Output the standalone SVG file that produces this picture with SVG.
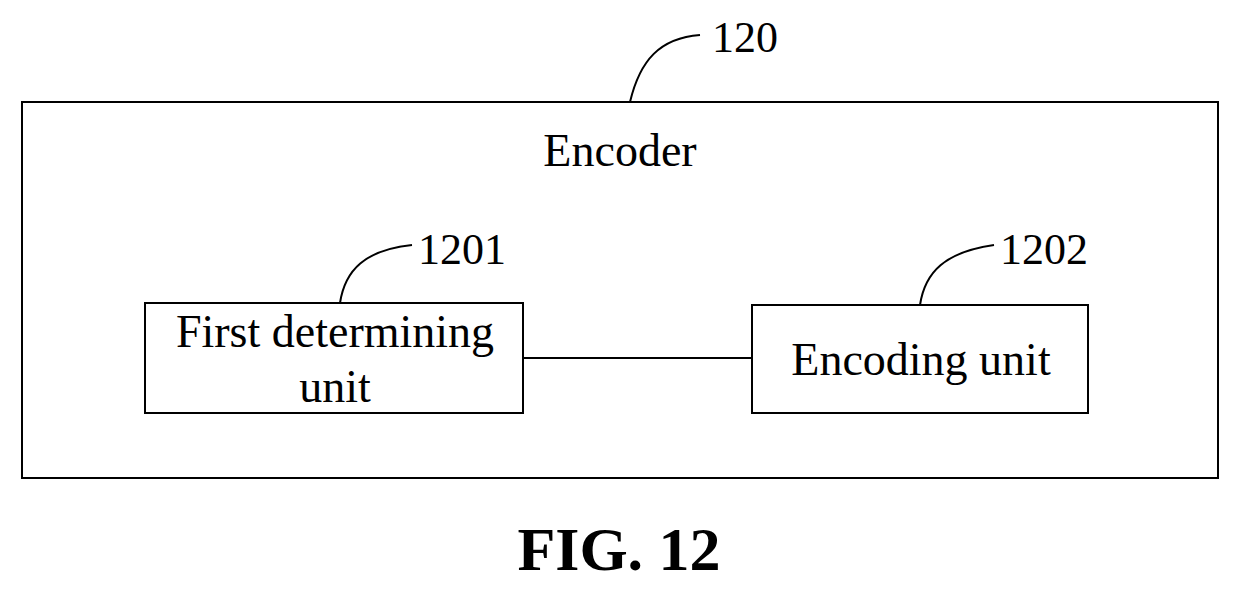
<svg xmlns="http://www.w3.org/2000/svg" width="1240" height="591" viewBox="0 0 1240 591">
<style>
rect{fill:none;stroke:#000;stroke-width:2}
path,line{fill:none;stroke:#000;stroke-width:2}
text{font-family:"Liberation Serif",serif;font-size:46px;fill:#000}
.n{font-size:44px}
</style>
<rect width="1240" height="591" style="fill:#fff;stroke:none"/>
<g id="encoder">
<rect x="22" y="102" width="1196" height="376"/>
<text x="620" y="166" text-anchor="middle">Encoder</text>
<path d="M630 102 C640 60 660 38 700 35"/>
<text class="n" x="712" y="52">120</text>
</g>
<g id="unit1201">
<rect x="145" y="303" width="378" height="110"/>
<text x="335" y="347" text-anchor="middle">First determining</text>
<text x="335" y="402" text-anchor="middle">unit</text>
<path d="M340 303 C345 270 365 250 412 245"/>
<text class="n" x="418" y="264">1201</text>
</g>
<g id="unit1202">
<rect x="752" y="305" width="336" height="108"/>
<text x="921" y="375" text-anchor="middle">Encoding unit</text>
<path d="M920 305 C925 272 945 252 994 245"/>
<text class="n" x="1000" y="264">1202</text>
</g>
<g id="connectors">
<line x1="523" y1="358" x2="752" y2="358"/>
</g>
<text x="619" y="570" text-anchor="middle" style="font-size:62px;font-weight:bold">FIG. 12</text>
</svg>
